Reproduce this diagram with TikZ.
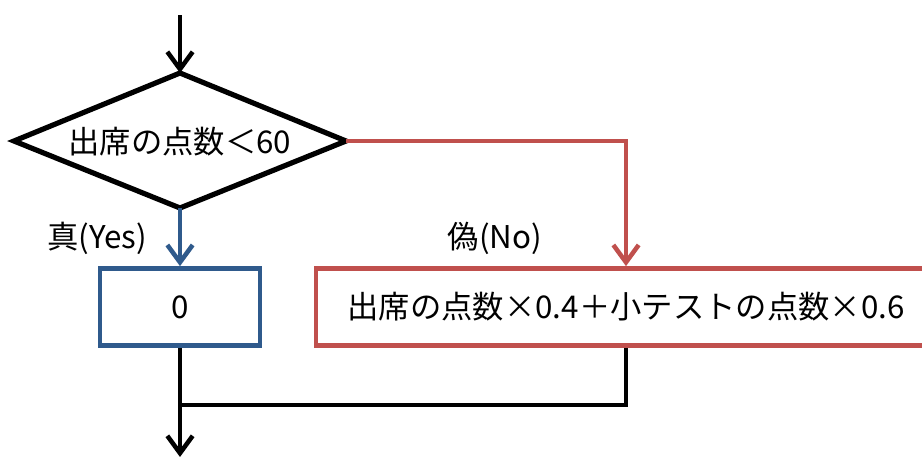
\documentclass[tikz,border=0pt]{standalone}
\usepackage{fontspec}
\setmainfont{Noto Sans CJK JP}
\usetikzlibrary{arrows.meta}
\definecolor{fcblue}{HTML}{2F5A8C}
\definecolor{fcred}{HTML}{C0504D}
\tikzset{
  flowline/.style={line width=3.4pt, -{Straight Barb[length=13pt,width=19pt]}},
  plainline/.style={line width=3.6pt},
  decision/.style={draw=black, line width=3.9pt, line join=miter},
  procbox/.style={draw, line width=3.3pt, rectangle, inner sep=0pt},
  txt/.style={font=\fontsize{23.5}{27}\selectfont, inner sep=0pt},
}
\begin{document}
\begin{tikzpicture}[x=0.75pt,y=-0.75pt]
\useasboundingbox (0,0) rectangle (922,457);
\fill[white] (0,0) rectangle (922,457);
\coordinate (dN) at (180,73);
\coordinate (dS) at (180,208);
\coordinate (dW) at (14,141);
\coordinate (dE) at (346,141);
\draw[decision] (dN) -- (dE) -- (dS) -- (dW) -- cycle;
\node[txt] (d) at (180,142) {出席の点数＜60};
\coordinate (top) at (180,15);
\node[procbox, draw=fcblue, minimum width=120pt, minimum height=58pt, txt] (yes) at (180,307) {0};
\node[procbox, draw=fcred, minimum width=465pt, minimum height=58pt, txt] (no) at (626,307) {出席の点数×0.4＋小テストの点数×0.6};
\node[txt] (ly) at (97,238) {真(Yes)};
\node[txt] (ln) at (495,238) {偽(No)};
\coordinate (j) at (180,405);
\coordinate (bot) at (180,457);
\draw[flowline] (top) -- (dN);
\draw[flowline, fcblue] (dS) -- (yes.north);
\draw[flowline, fcred] (dE) -| (no.north);
\draw[plainline] (no.south) |- (j);
\draw[flowline] (yes.south) -- (bot);
\end{tikzpicture}
\end{document}
